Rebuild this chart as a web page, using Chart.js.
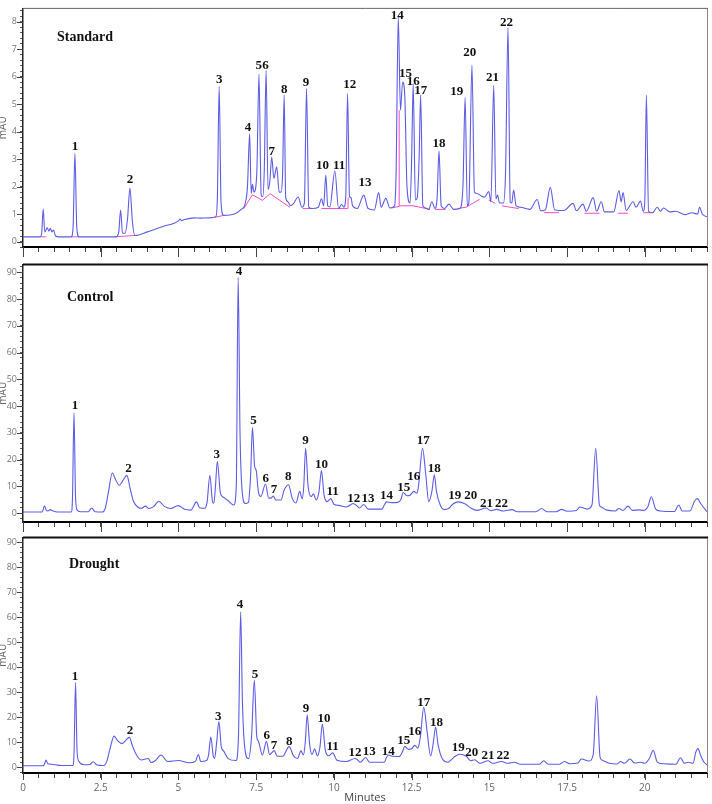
<!DOCTYPE html>
<html>
<head>
<meta charset="utf-8">
<script src="https://cdn.jsdelivr.net/npm/chart.js@4/dist/chart.umd.min.js"></script>
<style>
  html, body { margin: 0; padding: 0; background: #fff; overflow: hidden; }
  body { width: 712px; height: 804px; position: relative; }
  canvas { position: absolute; left: -3px; }
</style>
</head>
<body>
<canvas id="stdChart" width="715" height="260" style="top:0px"></canvas>
<canvas id="ctrlChart" width="715" height="280" style="top:256px"></canvas>
<canvas id="drChart" width="715" height="275" style="top:529px"></canvas>
<script>
// peak numbers (same for all three traces)
const peakNames = ['1','2','3','4','5','6','7','8','9','10','11','12','13','14','15','16','17','18','19','20','21','22'];

// Standard trace (minutes / mAU)
const stdTime = [0,0.55,0.6,0.65,0.7,0.78,0.83,0.88,0.93,0.98,1.05,1.15,1.55,1.61,1.67,1.73,1.8,3.0,3.08,3.14,3.2,3.28,3.36,3.44,3.52,3.6,4.0,4.5,5.0,5.05,5.1,5.2,5.5,5.7,6.0,6.2,6.25,6.31,6.37,6.45,6.8,7.0,7.15,7.22,7.29,7.34,7.38,7.43,7.52,7.59,7.66,7.71,7.76,7.82,7.88,7.94,8.0,8.07,8.16,8.24,8.3,8.35,8.4,8.45,8.52,8.6,8.7,8.85,8.97,9.05,9.12,9.19,9.3,9.5,9.6,9.67,9.74,9.8,9.87,10.03,10.15,10.25,10.32,10.38,10.44,10.5,10.55,10.6,10.75,10.96,11.1,11.3,11.44,11.52,11.67,11.8,11.95,12.0,12.07,12.14,12.21,12.28,12.35,12.45,12.5,12.55,12.62,12.68,12.74,12.79,12.86,12.95,13.05,13.15,13.25,13.32,13.38,13.45,13.55,13.7,13.85,14.05,14.15,14.22,14.29,14.34,14.44,14.52,14.6,14.75,14.85,14.98,15.05,15.14,15.21,15.26,15.33,15.45,15.52,15.6,15.67,15.72,15.78,15.86,16.0,16.3,16.54,16.65,16.8,16.96,17.1,17.4,17.69,17.8,18.01,18.12,18.34,18.45,18.6,18.7,19.0,19.17,19.24,19.3,19.4,19.62,19.72,19.86,19.95,20.0,20.05,20.12,20.25,20.4,20.5,20.6,20.8,21.0,21.3,21.5,21.7,21.76,21.85,22.0];
const stdMAU = [0.17,0.17,0.3,1.18,0.35,0.5,0.38,0.48,0.35,0.42,0.2,0.17,0.17,0.5,3.2,0.5,0.17,0.17,0.35,1.15,0.3,0.3,0.8,1.94,0.7,0.22,0.35,0.55,0.75,0.82,0.76,0.8,0.86,0.85,0.86,0.9,1.5,5.65,1.4,0.95,1.0,1.15,1.4,2.0,3.93,1.75,2.08,1.8,2.5,6.1,1.7,1.63,2.6,6.24,1.9,2.2,3.08,2.3,2.72,1.8,1.8,2.5,5.33,1.6,1.45,1.3,1.38,1.62,1.25,1.4,5.57,1.25,1.2,1.25,1.56,1.3,2.42,1.3,1.26,2.57,1.2,1.35,1.25,1.6,5.39,1.65,1.6,1.3,1.2,1.69,1.2,1.15,1.78,1.25,1.57,1.22,1.3,2.5,8.17,4.78,5.81,5.3,2.0,1.4,3.0,5.75,1.51,1.6,3.0,5.33,1.3,1.22,1.17,1.45,1.2,1.6,3.3,1.3,1.2,1.36,1.17,1.2,2.0,5.24,1.3,1.4,6.42,1.8,1.75,1.65,1.62,1.82,1.45,5.69,1.55,1.69,1.4,1.4,2.5,7.79,1.45,1.4,1.87,1.3,1.25,1.17,1.53,1.12,1.15,1.97,1.15,1.13,1.39,1.12,1.36,1.1,1.6,1.1,1.45,1.08,1.08,1.86,1.45,1.78,1.13,1.45,1.25,1.47,1.1,1.5,5.33,1.1,1.05,1.25,1.1,1.22,1.08,1.1,0.98,1.05,1.0,1.25,1.0,0.9];

// integration baseline of the Standard trace (null = gap)
const stdBaseTime = [0.55,0.75,0.76,1.55,1.8,1.81,2.95,3.6,3.61,6.17,6.45,6.46,7.1,7.38,7.7,7.95,8.58,8.59,9.0,9.3,9.31,9.6,10.45,10.46,10.47,11.85,12.1,12.1,12.1,12.1,12.55,13.09,13.1,13.25,13.6,13.61,13.98,14.25,14.69,14.7,14.98,15.19,15.2,15.4,15.94,15.95,16.76,17.24,17.25,18.06,18.54,18.55,19.14,19.46,19.47,19.95,20.27];
const stdBaseMAU = [0.17,0.17,null,0.17,0.17,null,0.17,0.22,null,0.88,0.95,null,1.2,1.7,1.5,1.74,1.25,null,1.2,1.2,null,1.2,1.2,1.6,null,1.22,1.28,4.78,null,1.3,1.3,1.17,null,1.17,1.17,null,1.2,1.25,1.54,null,1.51,1.39,null,1.3,1.2,null,1.05,1.05,null,1.03,1.03,null,1.03,1.03,null,1.05,1.05];

// Control trace
const ctrlTime = [0,0.6,0.64,0.69,0.75,0.8,0.88,0.95,1.1,1.55,1.59,1.64,1.69,1.74,1.85,2.1,2.21,2.32,2.55,2.65,2.75,2.87,2.98,3.1,3.22,3.34,3.45,3.55,3.7,3.8,3.94,4.05,4.2,4.37,4.55,4.75,4.99,5.2,5.4,5.58,5.68,5.85,5.92,6.01,6.1,6.14,6.19,6.25,6.35,6.45,6.6,6.78,6.86,6.92,6.98,7.05,7.15,7.25,7.32,7.38,7.45,7.5,7.57,7.65,7.8,7.9,7.97,8.05,8.13,8.3,8.4,8.54,8.66,8.78,8.9,8.98,9.03,9.09,9.17,9.27,9.34,9.43,9.52,9.6,9.68,9.78,9.9,10.0,10.15,10.4,10.62,10.75,10.82,10.96,11.1,11.55,11.62,11.69,11.85,12.05,12.15,12.23,12.35,12.45,12.57,12.67,12.72,12.85,12.95,13.05,13.15,13.23,13.3,13.42,13.55,13.7,13.84,14.0,14.21,14.4,14.6,14.89,15.05,15.23,15.45,15.73,15.9,16.5,16.68,16.85,17.15,17.32,17.5,17.8,17.91,18.15,18.3,18.42,18.54,18.6,18.75,19.05,19.17,19.3,19.46,19.6,19.8,19.95,20.1,20.21,20.35,20.5,20.95,21.09,21.2,21.45,21.6,21.69,21.8,22.0];
const ctrlMAU = [0.4,0.4,1.0,2.7,1.0,0.8,1.3,0.9,0.4,0.4,5,37.5,6,1.2,0.5,0.5,1.9,0.5,0.4,2.0,8.0,15.0,12.5,10.4,12.3,14.1,9.0,4.5,2.2,1.8,2.6,1.7,2.4,4.4,2.5,1.7,2.8,1.4,1.1,4.2,2.0,1.8,4.0,14.1,4.0,3.7,10.0,19.3,7.5,5.9,4.6,3.0,10,88.1,30,8,3.6,4.0,14,32,17.5,16.0,8,6.2,10.9,5.6,5.6,6.4,4.9,4.9,8.6,10.6,5.5,3.8,8.1,5.4,10,24.2,10,6.2,7.2,4.9,8,15.9,7,4.3,5.4,3.3,2.9,2.3,3.6,2.6,1.9,3.2,1.5,1.5,3.0,4.2,3.9,4.0,5.0,7.7,6.5,6.7,8.1,7.4,10,24.2,15,4.3,8,14.3,8,3.0,1.3,1.8,3.5,4.2,3.5,1.9,1.0,1.9,0.9,1.4,0.8,1.3,0.5,0.5,1.7,0.5,0.5,1.4,0.7,1.0,2.3,1.5,3,24.2,3,2.3,1.2,0.8,1.7,1.0,2.6,1.0,1.2,1.0,2.5,6.1,1.5,0.8,0.6,3.0,0.8,0.8,4.5,5.4,3.5,0.5];

// Drought trace
const drTime = [0,0.65,0.7,0.74,0.8,0.92,1.05,1.2,1.6,1.64,1.69,1.74,1.8,1.95,2.15,2.26,2.38,2.6,2.7,2.8,2.93,3.05,3.18,3.3,3.42,3.52,3.62,3.8,4.03,4.12,4.25,4.44,4.65,5.0,5.35,5.55,5.64,5.72,5.9,5.97,6.04,6.12,6.16,6.23,6.3,6.38,6.45,6.6,6.85,6.93,7.0,7.06,7.14,7.25,7.35,7.44,7.52,7.57,7.7,7.83,7.93,8.08,8.18,8.35,8.56,8.7,8.83,8.94,9.02,9.08,9.14,9.22,9.3,9.38,9.47,9.55,9.63,9.72,9.83,9.96,10.1,10.4,10.68,10.75,10.85,11.02,11.15,11.62,11.68,11.75,11.9,12.1,12.2,12.28,12.4,12.5,12.6,12.7,12.78,12.89,13.0,13.11,13.2,13.27,13.35,13.5,13.66,13.78,13.89,14.05,14.27,14.4,14.53,14.7,14.96,15.1,15.39,15.6,15.8,16.0,16.6,16.75,16.9,17.25,17.41,17.6,17.85,17.96,18.2,18.34,18.45,18.56,18.62,18.72,18.85,19.1,19.22,19.35,19.52,19.68,19.85,20.0,20.15,20.27,20.4,20.6,21.0,21.15,21.27,21.4,21.55,21.64,21.71,21.8,21.9,22.0];
const drMAU = [0.5,0.5,1.5,2.8,1.3,1.1,0.9,0.6,0.6,5,33.8,6,2.2,0.9,1.0,2.1,0.8,0.6,2.5,7.4,12.4,10.5,9.4,10.6,11.9,8.5,5.5,2.8,3.4,1.8,2.5,4.8,2.2,2.6,1.7,2.4,5.0,2.2,2.6,5,12.0,4.5,3.4,10,18.2,8,6.5,3.4,2.6,12,62.2,25,7,3.4,12,34.8,12,10.4,4.8,10.3,5.0,6.6,4.3,4.3,8.2,4.5,3.4,6.5,4.8,10,20.9,9,5.0,7.3,4.5,8,17.2,7,4.5,5.7,2.7,2.2,3.4,3.0,1.9,3.8,1.9,1.9,3.5,4.8,4.3,4.2,6,8.3,7.1,7.3,8.7,7.6,12,23.9,14,4.4,10,16.0,9,3.0,1.9,3.0,4.2,5.1,4.2,2.5,2.9,1.5,2.5,1.5,2.2,1.5,1.9,1.1,1.1,2.5,1.1,1.1,2.2,1.3,1.6,3.2,2.4,5,28.5,4,2.8,2.2,1.5,1.2,2.2,1.5,3.2,1.6,1.9,1.5,3.5,6.7,2.0,1.3,1.1,3.7,1.5,1.9,1.5,6,7.4,4.5,2.0,0.8];

// where each peak number sits (minutes / mAU)
const stdLabelT = [1.67,3.44,6.31,7.24,7.58,7.8,8.0,8.4,9.1,9.63,10.17,10.51,11.0,12.04,12.3,12.55,12.79,13.38,13.95,14.37,15.1,15.55];
const stdLabelV = [3.45,2.27,5.91,4.15,6.39,6.39,3.29,5.53,5.79,2.78,2.78,5.73,2.14,8.21,6.12,5.84,5.51,3.55,5.45,6.88,5.97,7.96];
const ctrlLabelT = [1.67,3.39,6.23,6.95,7.41,7.81,8.07,8.53,9.09,9.6,9.96,10.64,11.1,11.69,12.25,12.57,12.87,13.23,13.89,14.4,14.91,15.39];
const ctrlLabelV = [40,16.5,21.7,90.4,34.4,12.8,8.9,13.5,27,18.1,8.1,5.4,5.4,6.7,9.7,13.5,27,16.8,6.7,6.7,3.6,3.6];
const drLabelT = [1.67,3.44,6.28,6.98,7.46,7.84,8.07,8.56,9.1,9.68,9.96,10.68,11.14,11.75,12.25,12.6,12.89,13.3,14.0,14.43,14.96,15.44];
const drLabelV = [36.1,14.4,20.2,64.9,37.2,12.7,8.7,10.3,23.3,19.3,8.1,5.7,6.1,6.1,10.4,14,25.9,17.6,7.8,5.8,4.4,4.4];

const TRACE = '#5c5ce6';
const BASE = '#f04cc8';

function toXY(ts, vs) {
    return ts.map((t, i) => ({ x: t, y: vs[i] }));
}

function isMultiple(v, step) {
    const r = v / step;
    return Math.abs(r - Math.round(r)) < 1e-6;
}

// frame, longer major ticks, peak numbers and panel name
const panelDecor = {
    id: 'panelDecor',
    afterDraw(chart, args, o) {
        const { ctx, chartArea: a } = chart;
        const x = chart.scales.x, y = chart.scales.y;
        ctx.save();
        ctx.strokeStyle = '#888';
        ctx.lineWidth = 1;
        ctx.beginPath();
        ctx.moveTo(a.right + 0.5, a.top);
        ctx.lineTo(a.right + 0.5, a.bottom);
        ctx.stroke();
        ctx.strokeStyle = o.topColor;
        ctx.lineWidth = o.topWidth;
        ctx.beginPath();
        ctx.moveTo(a.left, a.top);
        ctx.lineTo(a.right + 1, a.top);
        ctx.stroke();

        ctx.strokeStyle = '#444';
        ctx.lineWidth = 1;
        x.ticks.forEach(t => {
            if (!isMultiple(t.value, 2.5)) return;
            const px = Math.round(x.getPixelForValue(t.value)) + 0.5;
            ctx.beginPath();
            ctx.moveTo(px, a.bottom);
            ctx.lineTo(px, a.bottom + o.majorX);
            ctx.stroke();
        });
        y.ticks.forEach(t => {
            if (!isMultiple(t.value, o.yMajor)) return;
            const py = Math.round(y.getPixelForValue(t.value)) + 0.5;
            ctx.beginPath();
            ctx.moveTo(a.left - 6, py);
            ctx.lineTo(a.left, py);
            ctx.stroke();
        });

        ctx.fillStyle = '#111';
        ctx.font = 'bold 13px "Liberation Serif", "Times New Roman", serif';
        ctx.textAlign = 'center';
        ctx.textBaseline = 'middle';
        peakNames.forEach((s, i) => {
            ctx.fillText(s, x.getPixelForValue(o.labelT[i]), y.getPixelForValue(o.labelV[i]));
        });

        ctx.font = 'bold 14px "Liberation Serif", "Times New Roman", serif';
        ctx.textAlign = 'left';
        ctx.fillText(o.name, a.left + o.nameDx, a.top + o.nameDy);
        ctx.restore();
    }
};

function makeChart(id, p) {
    const datasets = [{
        data: toXY(p.time, p.mau),
        borderColor: TRACE,
        borderWidth: 1.1,
        pointRadius: 0,
        cubicInterpolationMode: 'monotone',
        order: 1
    }];
    if (p.baseTime) {
        datasets.push({
            data: toXY(p.baseTime, p.baseMAU),
            borderColor: BASE,
            borderWidth: 1,
            pointRadius: 0,
            spanGaps: false,
            order: 2
        });
    }
    return new Chart(document.getElementById(id), {
        type: 'line',
        data: { datasets: datasets },
        plugins: [panelDecor],
        options: {
            responsive: false,
            animation: false,
            devicePixelRatio: 1,
            layout: { padding: { top: p.padTop, right: 5, bottom: 0, left: 0 } },
            plugins: {
                legend: { display: false },
                tooltip: { enabled: false },
                panelDecor: {
                    name: p.name, nameDx: p.nameDx, nameDy: p.nameDy,
                    labelT: p.labelT, labelV: p.labelV,
                    topColor: p.topColor, topWidth: p.topWidth,
                    yMajor: p.yMajor, majorX: p.majorX
                }
            },
            scales: {
                x: {
                    type: 'linear',
                    min: 0,
                    max: 22,
                    afterFit: s => { s.height = p.xHeight; },
                    border: { color: '#000', width: 2 },
                    grid: { drawOnChartArea: false, tickLength: 5, color: '#444' },
                    ticks: {
                        display: p.showX,
                        stepSize: 0.5,
                        autoSkip: false,
                        maxRotation: 0,
                        padding: 4,
                        color: '#666',
                        font: { family: '"Open Sans", sans-serif', size: 10 },
                        callback: v => isMultiple(v, 2.5) ? String(v) : ''
                    },
                    title: {
                        display: p.showX,
                        text: 'Minutes',
                        color: '#444',
                        padding: { top: 0, bottom: 0 },
                        font: { family: '"Open Sans", sans-serif', size: 11 }
                    }
                },
                y: {
                    min: p.yMin,
                    max: p.yMax,
                    afterFit: s => { s.width = 26; },
                    border: { color: '#222', width: 1.5 },
                    grid: { drawOnChartArea: false, tickLength: 3, color: '#555' },
                    ticks: {
                        stepSize: p.yStep,
                        includeBounds: false,
                        autoSkip: false,
                        padding: 3,
                        color: '#777',
                        font: { family: '"Open Sans", sans-serif', size: 9 },
                        callback: v => isMultiple(v, p.yMajor) ? String(Math.round(v)) : ''
                    },
                    title: {
                        display: true,
                        text: 'mAU',
                        color: '#666',
                        padding: 0,
                        font: { family: '"Open Sans", sans-serif', size: 10 }
                    }
                }
            }
        }
    });
}

makeChart('stdChart', {
    time: stdTime, mau: stdMAU, baseTime: stdBaseTime, baseMAU: stdBaseMAU,
    labelT: stdLabelT, labelV: stdLabelV,
    name: 'Standard', nameDx: 34, nameDy: 29,
    padTop: 8, xHeight: 13, showX: false, majorX: 10,
    yMin: -0.2, yMax: 8.49, yStep: 0.2, yMajor: 1,
    topColor: '#666', topWidth: 1
});

makeChart('ctrlChart', {
    time: ctrlTime, mau: ctrlMAU,
    labelT: ctrlLabelT, labelV: ctrlLabelV,
    name: 'Control', nameDx: 44, nameDy: 33,
    padTop: 6, xHeight: 14, showX: false, majorX: 10,
    yMin: -3.33, yMax: 92.96, yStep: 2, yMajor: 10,
    topColor: '#111', topWidth: 2
});

makeChart('drChart', {
    time: drTime, mau: drMAU,
    labelT: drLabelT, labelV: drLabelV,
    name: 'Drought', nameDx: 46, nameDy: 27,
    padTop: 6, xHeight: 31, showX: true, majorX: 7,
    yMin: -2.38, yMax: 91.98, yStep: 2, yMajor: 10,
    topColor: '#111', topWidth: 2
});
</script>
</body>
</html>
